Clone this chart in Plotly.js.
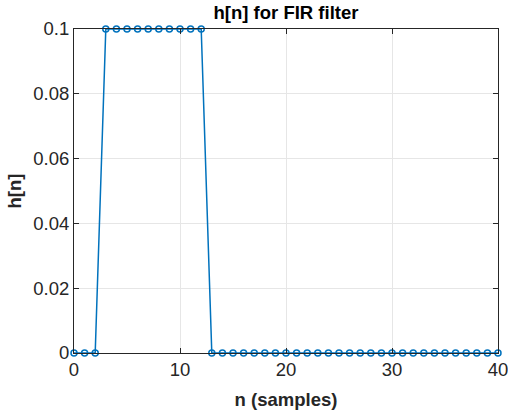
<!DOCTYPE html>
<html>
<head>
<meta charset="utf-8">
<script src="https://cdn.plot.ly/plotly-3.0.1.min.js"></script>
<style>html,body{margin:0;padding:0;background:#fff;}#chart{width:508px;height:415px;}</style>
</head>
<body>
<div id="chart"></div>
<script>
const n = [0,1,2,3,4,5,6,7,8,9,10,11,12,13,14,15,16,17,18,19,20,21,22,23,24,25,26,27,28,29,30,31,32,33,34,35,36,37,38,39,40];
const h = [0,0,0,0.1,0.1,0.1,0.1,0.1,0.1,0.1,0.1,0.1,0.1,0,0,0,0,0,0,0,0,0,0,0,0,0,0,0,0,0,0,0,0,0,0,0,0,0,0,0,0];
const xTicks = [0,10,20,30,40];
const yTicks = [0,0.02,0.04,0.06,0.08,0.1];
const yTickText = ['0','0.02','0.04','0.06','0.08','0.1'];

const FONT = 'Liberation Sans, Arial, Helvetica, sans-serif';
const axisCommon = {
  showline: true, linecolor: '#262626', linewidth: 1, mirror: 'ticks',
  ticks: 'inside', ticklen: 5, tickcolor: '#262626', tickwidth: 1,
  showgrid: true, gridcolor: '#e6e6e6', gridwidth: 1, zeroline: false,
  ticklabeloverflow: 'allow',
  tickfont: {family: FONT, size: 18.5, color: '#262626'}
};

Plotly.newPlot('chart', [{
  x: n, y: h, type: 'scatter', mode: 'lines+markers',
  line: {color: '#0072BD', width: 1.5},
  marker: {symbol: 'circle-open', size: 6, color: '#0072BD', line: {width: 1.5, color: '#0072BD'}},
  cliponaxis: false
}], {
  width: 508, height: 415,
  margin: {l: 74, r: 10, t: 29, b: 62},
  paper_bgcolor: '#fff', plot_bgcolor: '#fff',
  showlegend: false,
  title: {text: '<b>h[n] for FIR filter</b>', x: 0.563, xanchor: 'center', y: 0.971, yanchor: 'middle',
    font: {family: FONT, size: 18.5, color: '#000'}},
  xaxis: Object.assign({}, axisCommon, {range: [0,40], tickvals: xTicks, ticktext: xTicks.map(String),
    title: {text: '<b>n (samples)</b>', standoff: 13, font: {family: FONT, size: 18.5, color: '#262626'}}}),
  yaxis: Object.assign({}, axisCommon, {range: [0,0.1], tickvals: yTicks, ticktext: yTickText,
    title: {text: '<b>h[n]</b>', standoff: 6, font: {family: FONT, size: 18.5, color: '#262626'}}})
}, {displayModeBar: false, staticPlot: true});
</script>
</body>
</html>
